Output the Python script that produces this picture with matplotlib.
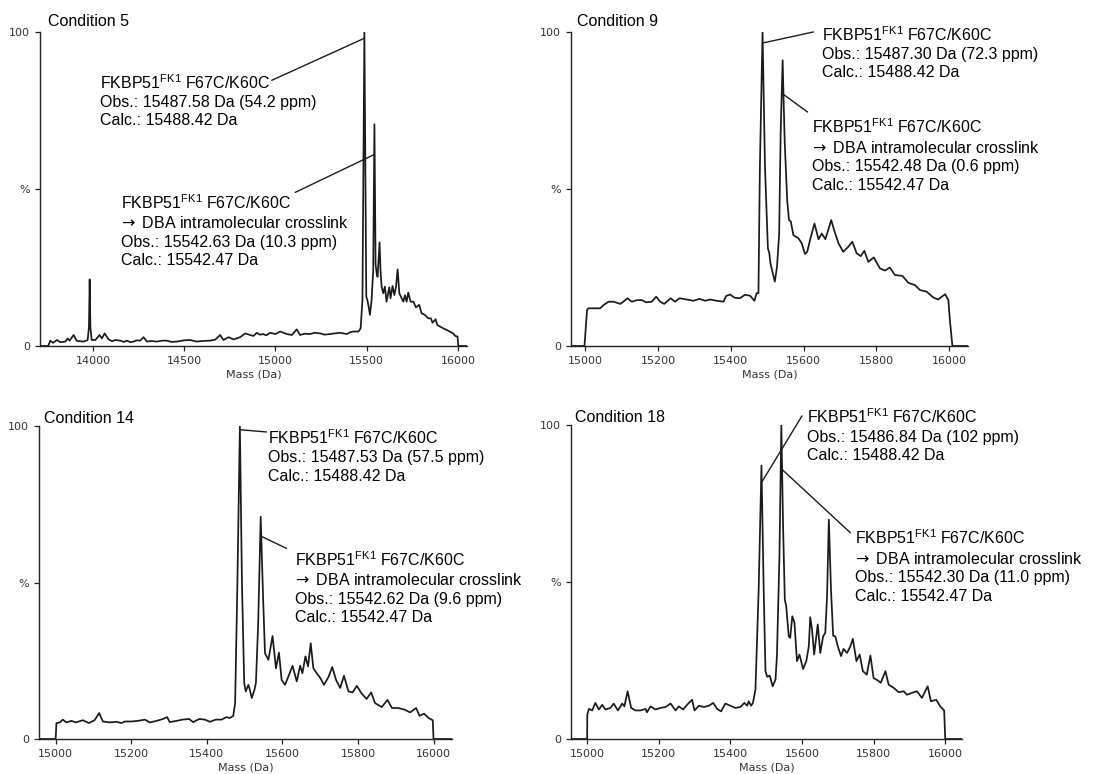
import matplotlib
matplotlib.use("Agg")
import matplotlib.pyplot as plt

plt.rcParams["font.family"] = ["Liberation Sans", "DejaVu Sans"]
plt.rcParams["mathtext.fontset"] = "custom"
plt.rcParams["mathtext.rm"] = "Liberation Sans"
plt.rcParams["mathtext.it"] = "Liberation Sans:italic"
plt.rcParams["mathtext.bf"] = "Liberation Sans:bold"
plt.rcParams["mathtext.sf"] = "DejaVu Sans"

# ---- deconvoluted spectra (mass in Da, relative intensity in %) ----
conditions = ["Condition 5", "Condition 9", "Condition 14", "Condition 18"]

mass_c5 = [13710, 13755, 13766, 13781, 13803, 13821, 13849, 13861, 13872, 13894,
           13912, 13949, 13971, 13978, 13982, 13986, 13993, 14013, 14036, 14049,
           14064, 14086, 14105, 14122, 14150, 14170, 14186, 14205, 14223, 14240,
           14259, 14277, 14296, 14320, 14350, 14380, 14405, 14430, 14460, 14500,
           14533, 14569, 14600, 14642, 14670, 14697, 14715, 14743, 14770, 14807,
           14834, 14861, 14880, 14898, 14915, 14934, 14950, 14971, 15000, 15026,
           15062, 15090, 15117, 15135, 15160, 15190, 15215, 15245, 15270, 15299,
           15325, 15354, 15391, 15410, 15427, 15455, 15467, 15477, 15487.58, 15498,
           15504, 15511, 15518, 15527, 15536, 15542.63, 15549, 15555, 15560, 15571,
           15576, 15582, 15591, 15600, 15609, 15624, 15631, 15642, 15652, 15661,
           15670, 15679, 15692, 15701, 15710, 15719, 15728, 15741, 15756, 15770,
           15788, 15801, 15819, 15838, 15852, 15861, 15878, 15887, 15911, 15938,
           15956, 15974, 15985, 15998, 16002, 16050]
int_c5 = [0, 0, 1.7, 1.0, 1.9, 1.2, 1.4, 2.4, 1.7, 3.5,
          1.6, 1.4, 1.9, 6.0, 21.2, 6.0, 1.9, 1.9, 3.5, 2.4,
          4.0, 2.1, 1.5, 1.9, 1.7, 1.3, 1.7, 1.2, 1.4, 1.8,
          1.7, 2.8, 1.4, 1.6, 1.4, 1.7, 1.7, 1.3, 1.4, 1.8,
          1.9, 1.4, 1.6, 1.7, 2.0, 3.5, 1.9, 2.8, 2.1, 2.8,
          4.0, 3.5, 3.2, 4.2, 3.6, 3.8, 3.4, 4.2, 3.8, 4.6,
          3.8, 3.5, 5.3, 3.5, 3.9, 3.8, 4.2, 4.0, 3.6, 3.8,
          4.0, 4.2, 3.8, 4.4, 4.6, 4.6, 5.6, 14.6, 100, 15.7,
          14.6, 12.5, 9.9, 14.6, 24, 70.6, 26, 23.1, 22, 33,
          24, 18.9, 16.8, 18.9, 14.1, 18.7, 15.2, 19.1, 16.2, 18.9,
          24.4, 16.8, 15.2, 14.1, 16.2, 14.1, 17.0, 14.1, 14.1, 12.3,
          13.1, 10.4, 9.9, 8.8, 8.8, 7.4, 8.5, 6.7, 5.9, 5.1,
          4.6, 4.0, 3.2, 3.0, 0, 0]

mass_c9 = [14961, 14998, 15005, 15009, 15041, 15050, 15064, 15078, 15096, 15105,
           15116, 15128, 15142, 15156, 15167, 15183, 15195, 15206, 15217, 15235,
           15247, 15259, 15279, 15297, 15314, 15329, 15343, 15361, 15380, 15387,
           15398, 15410, 15425, 15439, 15453, 15465, 15471, 15476, 15480, 15487.30,
           15494, 15502, 15506, 15509, 15521, 15527, 15533, 15537, 15542.48, 15548,
           15555, 15560, 15565, 15572, 15586, 15595, 15604, 15610, 15619, 15630,
           15641, 15650, 15660, 15676, 15684, 15696, 15709, 15723, 15734, 15746,
           15757, 15767, 15778, 15793, 15810, 15824, 15837, 15851, 15872, 15888,
           15906, 15920, 15938, 15957, 15970, 15989, 15998, 16002, 16009, 16052]
int_c9 = [0, 0, 11.5, 12.0, 12.0, 13.0, 14.1, 14.1, 13.4, 14.1,
          15.2, 14.1, 14.6, 14.6, 13.9, 14.1, 15.7, 14.1, 13.4, 15.2,
          14.1, 15.2, 14.8, 14.4, 15.0, 14.4, 14.8, 14.4, 14.1, 15.9,
          16.4, 15.4, 15.2, 16.3, 16.0, 14.4, 16.8, 16.8, 57, 100,
          57, 31, 29.5, 26.3, 20.5, 25.2, 35.8, 67.7, 91.0, 65.5,
          46.4, 40.1, 39.6, 35.3, 34.3, 32.7, 29.3, 30.0, 34.3, 39.0,
          34.0, 35.8, 34.0, 40.1, 36.9, 32.7, 30.0, 31.6, 33.2, 29.5,
          28.6, 30.3, 26.8, 28.2, 24.7, 24.0, 25.0, 22.6, 22.3, 20.1,
          19.4, 17.8, 17.3, 15.4, 14.8, 16.5, 14.6, 8.3, 0, 0]

mass_c14 = [14956, 15000, 15002, 15011, 15019, 15028, 15042, 15053, 15072, 15088,
            15103, 15115, 15125, 15143, 15161, 15174, 15183, 15201, 15218, 15236,
            15249, 15267, 15284, 15295, 15302, 15320, 15336, 15353, 15364, 15380,
            15395, 15408, 15424, 15439, 15452, 15461, 15470, 15475, 15481, 15487.53,
            15493, 15499, 15503, 15510, 15514, 15519, 15526, 15530, 15536, 15542.62,
            15549, 15554, 15563, 15574, 15583, 15591, 15598, 15607, 15616, 15627,
            15638, 15647, 15653, 15661, 15668, 15675, 15682, 15691, 15701, 15710,
            15722, 15732, 15742, 15753, 15763, 15775, 15786, 15797, 15810, 15823,
            15835, 15845, 15863, 15878, 15890, 15907, 15923, 15938, 15954, 15963,
            15975, 15987, 15998, 16000, 16049]
int_c14 = [0, 0, 5.1, 5.3, 6.2, 5.3, 5.8, 5.3, 6.0, 5.1,
           6.0, 8.3, 5.6, 5.3, 5.5, 5.1, 5.6, 5.6, 5.8, 6.2,
           5.3, 5.8, 6.4, 7.0, 5.4, 5.8, 6.2, 6.4, 5.4, 6.4,
           6.2, 5.5, 6.2, 6.2, 7.0, 6.7, 7.4, 11.5, 50, 100,
           50, 17.9, 15.2, 17.3, 15.7, 13.1, 15.7, 17.9, 37, 71.0,
           45, 27.4, 25.3, 32.9, 22.6, 27.6, 18.9, 17.3, 20.0, 23.4,
           18.4, 23.4, 21.0, 26.4, 23.2, 30.6, 22.6, 21.0, 19.4, 17.3,
           19.8, 23.0, 18.9, 16.3, 20.2, 15.2, 14.9, 17.0, 14.5, 12.8,
           14.9, 11.5, 10.2, 12.5, 9.9, 9.9, 9.4, 8.5, 9.9, 7.4,
           8.1, 6.7, 6.0, 0, 0]

mass_c18 = [14955, 15000, 15000.5, 15005, 15014, 15023, 15033, 15042, 15051, 15065,
            15074, 15086, 15098, 15104, 15113, 15123, 15135, 15149, 15163, 15167,
            15177, 15191, 15205, 15219, 15233, 15247, 15256, 15268, 15279, 15293,
            15300, 15312, 15326, 15340, 15352, 15363, 15374, 15386, 15400, 15414,
            15428, 15439, 15447, 15451, 15458, 15463, 15470, 15479, 15486.84, 15493,
            15498, 15503, 15510, 15518, 15526, 15530, 15537, 15542.30, 15547, 15552,
            15556, 15563, 15567, 15573, 15579, 15586, 15593, 15603, 15612, 15619,
            15623, 15628, 15634, 15644, 15651, 15659, 15665, 15670, 15675, 15681,
            15687, 15693, 15700, 15709, 15716, 15726, 15735, 15742, 15752, 15761,
            15770, 15781, 15791, 15800, 15811, 15820, 15833, 15842, 15856, 15870,
            15884, 15893, 15907, 15921, 15935, 15951, 15960, 15975, 15986, 15997,
            16000, 16047]
int_c18 = [0, 0, 7.8, 9.6, 9.1, 11.5, 9.4, 10.9, 9.4, 9.9,
           11.3, 9.1, 11.3, 10.4, 15.2, 9.9, 9.1, 9.1, 9.6, 8.5,
           10.4, 9.4, 9.9, 10.2, 11.3, 9.1, 10.4, 9.4, 10.9, 12.5,
           9.1, 10.6, 10.2, 10.6, 11.5, 9.6, 8.8, 11.3, 10.6, 9.9,
           10.2, 11.5, 10.6, 12.0, 10.6, 11.5, 15.7, 47.6, 87.1, 47.6,
           21.6, 19.8, 20.2, 16.8, 18.9, 26.4, 58, 100, 68.9, 44.4,
           42.3, 32.7, 32.2, 39.1, 37.0, 24.8, 26.9, 22.3, 24.8, 29.5,
           38.8, 34.9, 26.9, 36.5, 27.4, 32.7, 33.8, 45.5, 69.9, 47.6,
           32.9, 32.7, 29.5, 26.4, 28.7, 27.4, 29.5, 31.9, 24.8, 26.9,
           21.6, 20.5, 26.6, 19.4, 18.7, 17.9, 21.6, 17.3, 16.3, 14.9,
           15.2, 14.1, 14.7, 15.2, 13.1, 16.8, 12.0, 12.5, 10.4, 9.1,
           0, 0]

# ---- peak assignments: (observed mass, ppm) for unmodified / crosslinked ----
calc_parent = 15488.42
calc_crosslink = 15542.47
obs_parent = [(15487.58, "54.2"), (15487.30, "72.3"), (15487.53, "57.5"), (15486.84, "102")]
obs_crosslink = [(15542.63, "10.3"), (15542.48, "0.6"), (15542.62, "9.6"), (15542.30, "11.0")]

xticks_wide = [14000, 14500, 15000, 15500, 16000]
xticks_narrow = [15000, 15200, 15400, 15600, 15800, 16000]

species = r"FKBP51$^{\mathrm{FK1}}$ F67C/K60C"
crosslink = r"$\!\mathsf{\rightarrow}$ DBA intramolecular crosslink"

# ---- layout of the four panels (label anchors are the baseline of the last line) ----
panels = [
    dict(rect=[0.0361, 0.5530, 0.3850, 0.4057], xlim=(13710, 16050), ticks=xticks_wide,
         mass=mass_c5, inten=int_c5, title_off=(0.019, 0.019),
         p_text=(14038, 70.3), p_line=((14980, 84.6), (15487.58, 98.0)),
         x_text=(14155, 25.8), x_line=((15108, 48.9), (15542.63, 61.0))),
    dict(rect=[0.5149, 0.5530, 0.3580, 0.4057], xlim=(14961, 16052), ticks=xticks_narrow,
         mass=mass_c9, inten=int_c9, title_off=(0.015, 0.019),
         p_text=(15650, 85.5), p_line=((15627, 100.0), (15488.3, 96.5)),
         x_text=(15622, 49.8), x_line=((15611, 74.5), (15546, 80.0))),
    dict(rect=[0.0352, 0.0452, 0.3724, 0.4044], xlim=(14956, 16049), ticks=xticks_narrow,
         mass=mass_c14, inten=int_c14, title_off=(0.012, 0.010),
         p_text=(15563, 82.5), p_line=((15558, 98.1), (15489, 98.8)),
         x_text=(15633, 37.4), x_line=((15611, 60.9), (15543.5, 64.8))),
    dict(rect=[0.5149, 0.0452, 0.3526, 0.4057], xlim=(14955, 16047), ticks=xticks_narrow,
         mass=mass_c18, inten=int_c18, title_off=(0.010, 0.010),
         p_text=(15614, 88.8), p_line=((15600, 102.9), (15486.5, 81.6)),
         x_text=(15749, 44.0), x_line=((15735, 65.7), (15543.8, 85.9))),
]

fig = plt.figure(figsize=(11.09, 7.74), dpi=100)
line_col = "#1a1a1a"
label_fs = 11.5

for k, p in enumerate(panels):
    ax = fig.add_axes(p["rect"])
    ax.plot(p["mass"], p["inten"], color=line_col, lw=1.25, solid_joinstyle="round")
    ax.set_xlim(*p["xlim"])
    ax.set_ylim(0, 100)
    ax.set_xticks(p["ticks"])
    ax.set_xticklabels([str(t) for t in p["ticks"]])
    ax.set_yticks([0, 50, 100])
    ax.set_yticklabels(["0", "%", "100"])
    for side in ("top", "right"):
        ax.spines[side].set_visible(False)
    for side in ("left", "bottom"):
        ax.spines[side].set_linewidth(1.0)
        ax.spines[side].set_color("#222222")
    ax.tick_params(direction="out", length=3.5, width=0.9, colors="#222222",
                   labelsize=8, labelcolor="#333333")
    ax.tick_params(axis="y", pad=3.5)
    ax.tick_params(axis="x", pad=4)
    for lab in ax.get_xticklabels() + ax.get_yticklabels():
        lab.set_family("DejaVu Sans")
    ax.set_xlabel("Mass (Da)", fontsize=8, family="DejaVu Sans", color="#333333", labelpad=2)

    tx, ty = p["title_off"]
    ax.text(tx, 1 + ty, conditions[k], transform=ax.transAxes, fontsize=label_fs,
            va="baseline", ha="left")

    pm, pppm = obs_parent[k]
    xm, xppm = obs_crosslink[k]
    parent_label = (species + f"\nObs.: {pm:.2f} Da ({pppm} ppm)"
                    + f"\nCalc.: {calc_parent:.2f} Da")
    xl_label = (species + "\n" + crosslink
                + f"\nObs.: {xm:.2f} Da ({xppm} ppm)"
                + f"\nCalc.: {calc_crosslink:.2f} Da")

    ax.text(*p["p_text"], parent_label, fontsize=label_fs, va="baseline", ha="left",
            linespacing=1.28, clip_on=False)
    ax.text(*p["x_text"], xl_label, fontsize=label_fs, va="baseline", ha="left",
            linespacing=1.28, clip_on=False)

    for start, end in (p["p_line"], p["x_line"]):
        ax.annotate("", xy=end, xytext=start, annotation_clip=False,
                    arrowprops=dict(arrowstyle="-", lw=1.0, color=line_col,
                                    shrinkA=0, shrinkB=0))

fig.savefig("out.png", dpi=100)
